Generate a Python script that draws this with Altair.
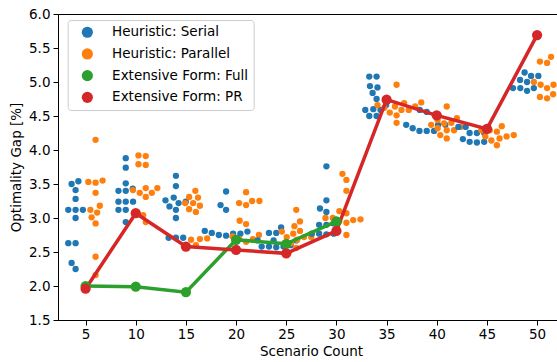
import math
import altair as alt
import pandas as pd

# ---------------- data ----------------
scenario_ticks = [5, 10, 15, 20, 25, 30, 35, 40, 45, 50]

serial = [
    [3.54, 3.50, 3.41, 3.28, 3.12, 3.12, 3.12, 3.00, 2.63, 2.63, 2.34, 2.25],
    [3.88, 3.74, 3.51, 3.40, 3.40, 3.43, 3.24, 3.24, 3.24, 3.12, 3.12, 2.94],
    [3.62, 3.47, 3.30, 3.24, 3.26, 3.22, 3.17, 3.12, 3.00, 2.71, 2.71, 2.71],
    [3.39, 3.19, 3.12, 2.81, 2.78, 2.77, 2.77, 2.80, 2.75, 2.74],
    [2.86, 2.78, 2.78, 2.67, 2.67, 2.67, 2.58, 2.58, 2.58, 2.60, 2.57],
    [3.76, 3.26, 3.14, 3.09, 2.90, 2.90, 2.92, 2.77, 2.76, 2.77, 2.77],
    [5.08, 5.08, 4.92, 4.94, 4.84, 4.75, 4.66, 4.59, 4.59, 4.50, 4.50, 4.60],
    [4.59, 4.56, 4.37, 4.37, 4.37, 4.32, 4.28, 4.28, 4.28],
    [4.34, 4.34, 4.34, 4.25, 4.25, 4.25, 4.16, 4.12, 4.11, 4.12],
    [5.14, 5.03, 5.09, 5.09, 5.00, 4.91, 4.87, 4.91, 4.91],
]
parallel = [
    [4.15, 3.53, 3.52, 3.55, 3.37, 3.18, 3.12, 3.08, 3.01, 2.92, 2.43, 2.16],
    [3.92, 3.91, 3.79, 3.78, 3.44, 3.41, 3.44, 3.37, 3.37, 3.31, 3.04, 2.94],
    [3.40, 3.31, 3.30, 3.22, 3.22, 3.18, 3.13, 3.09, 2.68, 2.69, 2.70, 2.60],
    [3.38, 3.22, 3.19, 3.25, 3.25, 2.96, 2.91, 2.75, 2.73, 2.69, 2.69, 2.65],
    [3.12, 2.95, 2.88, 2.81, 2.80, 2.77, 2.72, 2.72, 2.72, 2.68, 2.63, 2.56],
    [3.65, 3.56, 3.40, 3.10, 3.07, 3.00, 2.97, 3.00, 2.95, 2.93, 2.98, 2.75],
    [4.96, 4.70, 4.66, 4.64, 4.64, 4.69, 4.59, 4.59, 4.55, 4.51, 4.40, 4.62],
    [4.64, 4.47, 4.44, 4.40, 4.39, 4.37, 4.34, 4.32, 4.29, 4.29, 4.22, 4.17],
    [4.35, 4.29, 4.27, 4.29, 4.22, 4.20, 4.20, 4.17, 4.14, 4.07],
    [5.30, 5.37, 5.28, 5.00, 4.96, 4.96, 4.91, 4.82, 4.76, 4.78],
]
ef_full = [2.00, 1.99, 1.91, 2.68, 2.62, 2.95]
ef_pr = [1.96, 3.07, 2.58, 2.53, 2.48, 2.81, 4.74, 4.51, 4.31, 5.69]

S_SER = "Heuristic: Serial"
S_PAR = "Heuristic: Parallel"
S_FULL = "Extensive Form: Full"
S_PR = "Extensive Form: PR"
series_order = [S_SER, S_PAR, S_FULL, S_PR]
series_colors = ["#1f77b4", "#ff7f0e", "#2ca02c", "#d62728"]

# ---------------- layout ----------------
W, H = 499, 306
X_DOM = [2.25, 2.25 + W / 10.033]
Y_DOM = [1.5, 6.0]
ppu_x = W / (X_DOM[1] - X_DOM[0])
ppu_y = H / (Y_DOM[1] - Y_DOM[0])
DOT = 7.3      # swarm spacing, px
DODGE = 10.0   # hue dodge, px


def swarm(vals):
    ys = [v * ppu_y for v in vals]
    order = sorted(range(len(ys)), key=lambda i: ys[i])
    placed = []
    offs = [0.0] * len(ys)
    for i in order:
        y = ys[i]
        nb = [(px, py) for px, py in placed if abs(py - y) < DOT]
        cands = [0.0]
        for px, py in nb:
            dx = math.sqrt(DOT ** 2 - (py - y) ** 2)
            cands += [px + dx, px - dx]
        ok = [c for c in cands
              if all((c - px) ** 2 + (y - py) ** 2 >= DOT ** 2 - 1e-6 for px, py in nb)]
        best = min(ok, key=lambda c: (abs(c), c))
        placed.append((best, y))
        offs[i] = best
    return offs


rows = []
for g, center in enumerate(scenario_ticks):
    for name, vals, sign in ((S_SER, serial[g], -1), (S_PAR, parallel[g], 1)):
        offs = swarm(vals)
        for v, o in zip(vals, offs):
            rows.append({"x": center + (sign * DODGE + o) / ppu_x, "gap": v, "series": name})
pts = pd.DataFrame(rows)

line_rows = []
for i, v in enumerate(ef_full):
    line_rows.append({"x": scenario_ticks[i], "gap": v, "series": S_FULL, "k": i})
for i, v in enumerate(ef_pr):
    line_rows.append({"x": scenario_ticks[i], "gap": v, "series": S_PR, "k": i})
lines = pd.DataFrame(line_rows)

FONT = "DejaVu Sans"
FS = 13.5

xenc = alt.X("x:Q", scale=alt.Scale(domain=X_DOM, nice=False, zero=False),
             axis=alt.Axis(values=scenario_ticks, format="d", title="Scenario Count",
                           grid=False, tickSize=5, labelPadding=2, titlePadding=4,
                           titleX=253, titleAlign="center"))
yenc = alt.Y("gap:Q", scale=alt.Scale(domain=Y_DOM, nice=False, zero=False),
             axis=alt.Axis(values=[1.5, 2.0, 2.5, 3.0, 3.5, 4.0, 4.5, 5.0, 5.5, 6.0],
                           format=".1f", title="Optimality Gap [%]", grid=False,
                           tickSize=5, labelPadding=3, titlePadding=5))
color = alt.Color("series:N",
                  scale=alt.Scale(domain=series_order, range=series_colors),
                  legend=alt.Legend(orient="none", legendX=9.7, legendY=6, title=None,
                                    symbolType="circle", symbolSize=125,
                                    labelFontSize=FS, labelFont=FONT, padding=5.5,
                                    rowPadding=6.7, symbolOffset=7.4, labelOffset=18,
                                    fillColor="rgba(255,255,255,0.8)",
                                    strokeColor="#cccccc", cornerRadius=3,
                                    symbolStrokeWidth=0, labelColor="#000000"))

dots = alt.Chart(pts).mark_circle(size=40, opacity=1).encode(x=xenc, y=yenc, color=color)

efl = alt.Chart(lines).mark_line(strokeWidth=3.5).encode(
    x=xenc, y=yenc, color=color, order="k:Q")
efp = alt.Chart(lines).mark_circle(size=105, opacity=1).encode(x=xenc, y=yenc, color=color)

chart = alt.layer(dots, efl, efp).properties(
    width=W, height=H,
    padding={"left": 58, "top": 14, "right": 0, "bottom": 42},
    autosize=alt.AutoSizeParams(type="none"),
).configure_view(stroke="#000000", strokeWidth=1).configure_axis(
    domainColor="#000000", tickColor="#000000", labelColor="#000000",
    titleColor="#000000", labelFont=FONT, titleFont=FONT, labelFontSize=FS,
    titleFontSize=FS, titleFontWeight="normal",
).configure_legend(labelFont=FONT)

chart.save("out.html", embed_options={"renderer": "svg", "actions": False})
